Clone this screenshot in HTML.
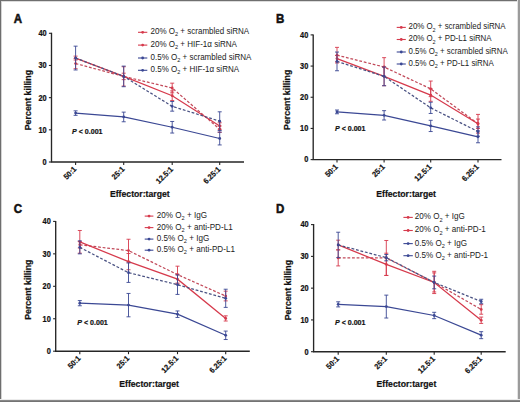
<!DOCTYPE html>
<html><head><meta charset="utf-8"><style>
html,body{margin:0;padding:0;background:#fff;}
body{width:520px;height:402px;overflow:hidden;}
svg{display:block;}
text{font-family:"Liberation Sans", sans-serif;}
.b{stroke:#111;stroke-width:0.22px;}
.L{stroke:#111;stroke-width:0.55px;}
</style></head><body>
<svg width="520" height="402" viewBox="0 0 520 402">
<rect x="0" y="0" width="520" height="402" fill="#fff"/>
<rect x="0" y="0" width="520" height="1" fill="#6f6f6f"/>
<rect x="0" y="1" width="520" height="1" fill="#dcdcdc"/>
<rect x="0" y="0" width="1" height="402" fill="#6e6e6e"/>
<rect x="1" y="1" width="1" height="400" fill="#d4d4d4"/>
<rect x="517" y="0" width="1" height="402" fill="#e4e4e4"/>
<rect x="518" y="0" width="2" height="402" fill="#9b9b9b"/>
<rect x="0" y="399" width="520" height="1" fill="#ececec"/>
<rect x="0" y="400" width="520" height="1" fill="#888"/>
<rect x="0" y="401" width="520" height="1" fill="#747474"/>
<g>
<text transform="translate(13.7 22.7) scale(0.86 1)" font-size="13.4" font-weight="bold" fill="#111" class="L">A</text>
<path d="M51.5 32.8V162H244" fill="none" stroke="#262626" stroke-width="1.35"/>
<path d="M48.9 162H51.5" stroke="#262626" stroke-width="1.1"/>
<text transform="translate(46.6 164.85) scale(0.9 1)" font-size="8.2" font-weight="bold" text-anchor="end" fill="#111" class="b">0</text>
<path d="M48.9 129.82H51.5" stroke="#262626" stroke-width="1.1"/>
<text transform="translate(46.6 132.67) scale(0.9 1)" font-size="8.2" font-weight="bold" text-anchor="end" fill="#111" class="b">10</text>
<path d="M48.9 97.65H51.5" stroke="#262626" stroke-width="1.1"/>
<text transform="translate(46.6 100.5) scale(0.9 1)" font-size="8.2" font-weight="bold" text-anchor="end" fill="#111" class="b">20</text>
<path d="M48.9 65.48H51.5" stroke="#262626" stroke-width="1.1"/>
<text transform="translate(46.6 68.33) scale(0.9 1)" font-size="8.2" font-weight="bold" text-anchor="end" fill="#111" class="b">30</text>
<path d="M48.9 33.3H51.5" stroke="#262626" stroke-width="1.1"/>
<text transform="translate(46.6 36.15) scale(0.9 1)" font-size="8.2" font-weight="bold" text-anchor="end" fill="#111" class="b">40</text>
<path d="M75.6 162V165" stroke="#262626" stroke-width="1.1"/>
<text transform="translate(76.9 169.8) rotate(-45) scale(0.92 1)" font-size="7.8" font-weight="bold" text-anchor="end" fill="#111" class="b">50:1</text>
<path d="M123.7 162V165" stroke="#262626" stroke-width="1.1"/>
<text transform="translate(125 169.8) rotate(-45) scale(0.92 1)" font-size="7.8" font-weight="bold" text-anchor="end" fill="#111" class="b">25:1</text>
<path d="M172.2 162V165" stroke="#262626" stroke-width="1.1"/>
<text transform="translate(173.5 169.8) rotate(-45) scale(0.92 1)" font-size="7.8" font-weight="bold" text-anchor="end" fill="#111" class="b">12.5:1</text>
<path d="M219.7 162V165" stroke="#262626" stroke-width="1.1"/>
<text transform="translate(221 169.8) rotate(-45) scale(0.92 1)" font-size="7.8" font-weight="bold" text-anchor="end" fill="#111" class="b">6.25:1</text>
<text transform="translate(30.6 100.1) rotate(-90) scale(0.95 1)" font-size="9.3" font-weight="bold" text-anchor="middle" fill="#111" class="b">Percent killing</text>
<text transform="translate(139.8 196.7) scale(0.885 1)" font-size="9.8" font-weight="bold" text-anchor="middle" fill="#111" class="b">Effector:target</text>
<text transform="translate(72.1 133.8) scale(0.92 1)" font-size="7.7" font-weight="bold" fill="#111" class="b"><tspan font-style="italic">P</tspan> &lt; 0.001</text>
<path d="M75.6 63.54 L123.7 76.41 L172.2 88 L219.7 129.18" fill="none" stroke="#c24a5a" stroke-width="1.25" stroke-dasharray="2.8 1.8"/>
<path d="M75.6 58.4V68.69M73.6 58.4H77.6M73.6 68.69H77.6" fill="none" stroke="#d63a4c" stroke-width="1" opacity="0.9"/>
<circle cx="75.6" cy="63.54" r="1.4" fill="#d63a4c"/>
<path d="M123.7 73.2V79.63M121.7 73.2H125.7M121.7 79.63H125.7" fill="none" stroke="#d63a4c" stroke-width="1" opacity="0.9"/>
<circle cx="123.7" cy="76.41" r="1.4" fill="#d63a4c"/>
<path d="M172.2 83.17V92.82M170.2 83.17H174.2M170.2 92.82H174.2" fill="none" stroke="#d63a4c" stroke-width="1" opacity="0.9"/>
<circle cx="172.2" cy="88" r="1.4" fill="#d63a4c"/>
<path d="M219.7 125.96V132.4M217.7 125.96H221.7M217.7 132.4H221.7" fill="none" stroke="#d63a4c" stroke-width="1" opacity="0.9"/>
<circle cx="219.7" cy="129.18" r="1.4" fill="#d63a4c"/>
<path d="M75.6 58.07 L123.7 76.41 L172.2 95.72 L219.7 125.96" fill="none" stroke="#d63a4c" stroke-width="1.25"/>
<path d="M75.6 56.14V60.01M73.6 56.14H77.6M73.6 60.01H77.6" fill="none" stroke="#d63a4c" stroke-width="1" opacity="0.9"/>
<circle cx="75.6" cy="58.07" r="1.4" fill="#d63a4c"/>
<path d="M123.7 66.76V86.07M121.7 66.76H125.7M121.7 86.07H125.7" fill="none" stroke="#d63a4c" stroke-width="1" opacity="0.9"/>
<circle cx="123.7" cy="76.41" r="1.4" fill="#d63a4c"/>
<path d="M172.2 90.89V100.55M170.2 90.89H174.2M170.2 100.55H174.2" fill="none" stroke="#d63a4c" stroke-width="1" opacity="0.9"/>
<circle cx="172.2" cy="95.72" r="1.4" fill="#d63a4c"/>
<path d="M219.7 122.75V129.18M217.7 122.75H221.7M217.7 129.18H221.7" fill="none" stroke="#d63a4c" stroke-width="1" opacity="0.9"/>
<circle cx="219.7" cy="125.96" r="1.4" fill="#d63a4c"/>
<path d="M75.6 113.09 L123.7 116.96 L172.2 127.25 L219.7 138.51" fill="none" stroke="#3b4894" stroke-width="1.25"/>
<path d="M75.6 110.84V115.35M73.6 110.84H77.6M73.6 115.35H77.6" fill="none" stroke="#3b4894" stroke-width="1" opacity="0.9"/>
<circle cx="75.6" cy="113.09" r="1.4" fill="#3b4894"/>
<path d="M123.7 112.13V121.78M121.7 112.13H125.7M121.7 121.78H125.7" fill="none" stroke="#3b4894" stroke-width="1" opacity="0.9"/>
<circle cx="123.7" cy="116.96" r="1.4" fill="#3b4894"/>
<path d="M172.2 121.46V133.04M170.2 121.46H174.2M170.2 133.04H174.2" fill="none" stroke="#3b4894" stroke-width="1" opacity="0.9"/>
<circle cx="172.2" cy="127.25" r="1.4" fill="#3b4894"/>
<path d="M219.7 132.08V144.95M217.7 132.08H221.7M217.7 144.95H221.7" fill="none" stroke="#3b4894" stroke-width="1" opacity="0.9"/>
<circle cx="219.7" cy="138.51" r="1.4" fill="#3b4894"/>
<path d="M75.6 58.07 L123.7 76.41 L172.2 106.34 L219.7 121.14" fill="none" stroke="#4a5283" stroke-width="1.25" stroke-dasharray="2.8 1.8"/>
<path d="M75.6 46.17V69.98M73.6 46.17H77.6M73.6 69.98H77.6" fill="none" stroke="#3b4894" stroke-width="1" opacity="0.9"/>
<circle cx="75.6" cy="58.07" r="1.4" fill="#3b4894"/>
<path d="M123.7 66.12V86.71M121.7 66.12H125.7M121.7 86.71H125.7" fill="none" stroke="#3b4894" stroke-width="1" opacity="0.9"/>
<circle cx="123.7" cy="76.41" r="1.4" fill="#3b4894"/>
<path d="M172.2 101.51V111.16M170.2 101.51H174.2M170.2 111.16H174.2" fill="none" stroke="#3b4894" stroke-width="1" opacity="0.9"/>
<circle cx="172.2" cy="106.34" r="1.4" fill="#3b4894"/>
<path d="M219.7 111.81V130.47M217.7 111.81H221.7M217.7 130.47H221.7" fill="none" stroke="#3b4894" stroke-width="1" opacity="0.9"/>
<circle cx="219.7" cy="121.14" r="1.4" fill="#3b4894"/>
<path d="M138 32.3H147.3" stroke="#d63a4c" stroke-width="1.1"/>
<circle cx="142.65" cy="32.3" r="1.4" fill="#d63a4c"/>
<text transform="translate(150.5 34.2) scale(0.945 1)" font-size="8.5" fill="#222">20% O<tspan font-size="5.9" dy="2.2">2</tspan><tspan dy="-2.2"> + scrambled siRNA</tspan></text>
<path d="M138 45.1H147.3" stroke="#d63a4c" stroke-width="1.1"/>
<circle cx="142.65" cy="45.1" r="1.4" fill="#d63a4c"/>
<text transform="translate(150.5 47) scale(0.945 1)" font-size="8.5" fill="#222">20% O<tspan font-size="5.9" dy="2.2">2</tspan><tspan dy="-2.2"> + HIF-1α siRNA</tspan></text>
<path d="M138 58H147.3" stroke="#3b4894" stroke-width="1.1"/>
<circle cx="142.65" cy="58" r="1.4" fill="#3b4894"/>
<text transform="translate(150.5 59.9) scale(0.945 1)" font-size="8.5" fill="#222">0.5% O<tspan font-size="5.9" dy="2.2">2</tspan><tspan dy="-2.2"> + scrambled siRNA</tspan></text>
<path d="M138 70.3H147.3" stroke="#3b4894" stroke-width="1.1"/>
<circle cx="142.65" cy="70.3" r="1.4" fill="#3b4894"/>
<text transform="translate(150.5 72.2) scale(0.945 1)" font-size="8.5" fill="#222">0.5% O<tspan font-size="5.9" dy="2.2">2</tspan><tspan dy="-2.2"> + HIF-1α siRNA</tspan></text>
</g>
<g>
<text transform="translate(276.1 23) scale(0.86 1)" font-size="13.4" font-weight="bold" fill="#111" class="L">B</text>
<path d="M313.2 34.4V159.6H501.5" fill="none" stroke="#262626" stroke-width="1.35"/>
<path d="M310.6 159.6H313.2" stroke="#262626" stroke-width="1.1"/>
<text transform="translate(308.3 162.45) scale(0.9 1)" font-size="8.2" font-weight="bold" text-anchor="end" fill="#111" class="b">0</text>
<path d="M310.6 128.43H313.2" stroke="#262626" stroke-width="1.1"/>
<text transform="translate(308.3 131.28) scale(0.9 1)" font-size="8.2" font-weight="bold" text-anchor="end" fill="#111" class="b">10</text>
<path d="M310.6 97.25H313.2" stroke="#262626" stroke-width="1.1"/>
<text transform="translate(308.3 100.1) scale(0.9 1)" font-size="8.2" font-weight="bold" text-anchor="end" fill="#111" class="b">20</text>
<path d="M310.6 66.08H313.2" stroke="#262626" stroke-width="1.1"/>
<text transform="translate(308.3 68.92) scale(0.9 1)" font-size="8.2" font-weight="bold" text-anchor="end" fill="#111" class="b">30</text>
<path d="M310.6 34.9H313.2" stroke="#262626" stroke-width="1.1"/>
<text transform="translate(308.3 37.75) scale(0.9 1)" font-size="8.2" font-weight="bold" text-anchor="end" fill="#111" class="b">40</text>
<path d="M337 159.6V162.6" stroke="#262626" stroke-width="1.1"/>
<text transform="translate(338.3 167.4) rotate(-45) scale(0.92 1)" font-size="7.8" font-weight="bold" text-anchor="end" fill="#111" class="b">50:1</text>
<path d="M384.1 159.6V162.6" stroke="#262626" stroke-width="1.1"/>
<text transform="translate(385.4 167.4) rotate(-45) scale(0.92 1)" font-size="7.8" font-weight="bold" text-anchor="end" fill="#111" class="b">25:1</text>
<path d="M430.7 159.6V162.6" stroke="#262626" stroke-width="1.1"/>
<text transform="translate(432 167.4) rotate(-45) scale(0.92 1)" font-size="7.8" font-weight="bold" text-anchor="end" fill="#111" class="b">12.5:1</text>
<path d="M478 159.6V162.6" stroke="#262626" stroke-width="1.1"/>
<text transform="translate(479.3 167.4) rotate(-45) scale(0.92 1)" font-size="7.8" font-weight="bold" text-anchor="end" fill="#111" class="b">6.25:1</text>
<text transform="translate(290 99.8) rotate(-90) scale(0.95 1)" font-size="9.3" font-weight="bold" text-anchor="middle" fill="#111" class="b">Percent killing</text>
<text transform="translate(406.1 196.6) scale(0.885 1)" font-size="9.8" font-weight="bold" text-anchor="middle" fill="#111" class="b">Effector:target</text>
<text transform="translate(335 130.6) scale(0.92 1)" font-size="7.7" font-weight="bold" fill="#111" class="b"><tspan font-style="italic">P</tspan> &lt; 0.001</text>
<path d="M337 55.16 L384.1 67.01 L430.7 88.83 L478 123.75" fill="none" stroke="#c24a5a" stroke-width="1.25" stroke-dasharray="2.8 1.8"/>
<path d="M337 47.37V62.96M335 47.37H339M335 62.96H339" fill="none" stroke="#d63a4c" stroke-width="1" opacity="0.9"/>
<circle cx="337" cy="55.16" r="1.4" fill="#d63a4c"/>
<path d="M384.1 57.66V76.36M382.1 57.66H386.1M382.1 76.36H386.1" fill="none" stroke="#d63a4c" stroke-width="1" opacity="0.9"/>
<circle cx="384.1" cy="67.01" r="1.4" fill="#d63a4c"/>
<path d="M430.7 81.04V96.63M428.7 81.04H432.7M428.7 96.63H432.7" fill="none" stroke="#d63a4c" stroke-width="1" opacity="0.9"/>
<circle cx="430.7" cy="88.83" r="1.4" fill="#d63a4c"/>
<path d="M478 114.4V133.1M476 114.4H480M476 133.1H480" fill="none" stroke="#d63a4c" stroke-width="1" opacity="0.9"/>
<circle cx="478" cy="123.75" r="1.4" fill="#d63a4c"/>
<path d="M337 58.59 L384.1 76.36 L430.7 95.07 L478 123.75" fill="none" stroke="#d63a4c" stroke-width="1.25"/>
<path d="M337 55.48V61.71M335 55.48H339M335 61.71H339" fill="none" stroke="#d63a4c" stroke-width="1" opacity="0.9"/>
<circle cx="337" cy="58.59" r="1.4" fill="#d63a4c"/>
<path d="M384.1 67.01V85.72M382.1 67.01H386.1M382.1 85.72H386.1" fill="none" stroke="#d63a4c" stroke-width="1" opacity="0.9"/>
<circle cx="384.1" cy="76.36" r="1.4" fill="#d63a4c"/>
<path d="M430.7 88.83V101.3M428.7 88.83H432.7M428.7 101.3H432.7" fill="none" stroke="#d63a4c" stroke-width="1" opacity="0.9"/>
<circle cx="430.7" cy="95.07" r="1.4" fill="#d63a4c"/>
<path d="M478 119.07V128.43M476 119.07H480M476 128.43H480" fill="none" stroke="#d63a4c" stroke-width="1" opacity="0.9"/>
<circle cx="478" cy="123.75" r="1.4" fill="#d63a4c"/>
<path d="M337 111.9 L384.1 115.33 L430.7 125.93 L478 136.84" fill="none" stroke="#3b4894" stroke-width="1.25"/>
<path d="M337 110.03V113.77M335 110.03H339M335 113.77H339" fill="none" stroke="#3b4894" stroke-width="1" opacity="0.9"/>
<circle cx="337" cy="111.9" r="1.4" fill="#3b4894"/>
<path d="M384.1 110.66V120.01M382.1 110.66H386.1M382.1 120.01H386.1" fill="none" stroke="#3b4894" stroke-width="1" opacity="0.9"/>
<circle cx="384.1" cy="115.33" r="1.4" fill="#3b4894"/>
<path d="M430.7 120.32V131.54M428.7 120.32H432.7M428.7 131.54H432.7" fill="none" stroke="#3b4894" stroke-width="1" opacity="0.9"/>
<circle cx="430.7" cy="125.93" r="1.4" fill="#3b4894"/>
<path d="M478 130.92V142.77M476 130.92H480M476 142.77H480" fill="none" stroke="#3b4894" stroke-width="1" opacity="0.9"/>
<circle cx="478" cy="136.84" r="1.4" fill="#3b4894"/>
<path d="M337 61.4 L384.1 76.36 L430.7 107.85 L478 131.54" fill="none" stroke="#4a5283" stroke-width="1.25" stroke-dasharray="2.8 1.8"/>
<path d="M337 52.05V70.75M335 52.05H339M335 70.75H339" fill="none" stroke="#3b4894" stroke-width="1" opacity="0.9"/>
<circle cx="337" cy="61.4" r="1.4" fill="#3b4894"/>
<path d="M384.1 67.01V85.72M382.1 67.01H386.1M382.1 85.72H386.1" fill="none" stroke="#3b4894" stroke-width="1" opacity="0.9"/>
<circle cx="384.1" cy="76.36" r="1.4" fill="#3b4894"/>
<path d="M430.7 102.24V113.46M428.7 102.24H432.7M428.7 113.46H432.7" fill="none" stroke="#3b4894" stroke-width="1" opacity="0.9"/>
<circle cx="430.7" cy="107.85" r="1.4" fill="#3b4894"/>
<path d="M478 126.87V136.22M476 126.87H480M476 136.22H480" fill="none" stroke="#3b4894" stroke-width="1" opacity="0.9"/>
<circle cx="478" cy="131.54" r="1.4" fill="#3b4894"/>
<path d="M396.7 27.4H405.8" stroke="#d63a4c" stroke-width="1.1"/>
<circle cx="401.25" cy="27.4" r="1.4" fill="#d63a4c"/>
<text transform="translate(408.5 29.3) scale(0.93 1)" font-size="8.5" fill="#222">20% O<tspan font-size="5.9" dy="2.2">2</tspan><tspan dy="-2.2"> + scrambled siRNA</tspan></text>
<path d="M396.7 39.5H405.8" stroke="#d63a4c" stroke-width="1.1"/>
<circle cx="401.25" cy="39.5" r="1.4" fill="#d63a4c"/>
<text transform="translate(408.5 41.4) scale(0.93 1)" font-size="8.5" fill="#222">20% O<tspan font-size="5.9" dy="2.2">2</tspan><tspan dy="-2.2"> + PD-L1 siRNA</tspan></text>
<path d="M396.7 52H405.8" stroke="#3b4894" stroke-width="1.1"/>
<circle cx="401.25" cy="52" r="1.4" fill="#3b4894"/>
<text transform="translate(408.5 53.9) scale(0.93 1)" font-size="8.5" fill="#222">0.5% O<tspan font-size="5.9" dy="2.2">2</tspan><tspan dy="-2.2"> + scrambled siRNA</tspan></text>
<path d="M396.7 64H405.8" stroke="#3b4894" stroke-width="1.1"/>
<circle cx="401.25" cy="64" r="1.4" fill="#3b4894"/>
<text transform="translate(408.5 65.9) scale(0.93 1)" font-size="8.5" fill="#222">0.5% O<tspan font-size="5.9" dy="2.2">2</tspan><tspan dy="-2.2"> + PD-L1 siRNA</tspan></text>
</g>
<g>
<text transform="translate(13.7 213.3) scale(0.86 1)" font-size="13.4" font-weight="bold" fill="#111" class="L">C</text>
<path d="M55.7 220.9V351.2H249.8" fill="none" stroke="#262626" stroke-width="1.35"/>
<path d="M53.1 351.2H55.7" stroke="#262626" stroke-width="1.1"/>
<text transform="translate(50.8 354.05) scale(0.9 1)" font-size="8.2" font-weight="bold" text-anchor="end" fill="#111" class="b">0</text>
<path d="M53.1 318.75H55.7" stroke="#262626" stroke-width="1.1"/>
<text transform="translate(50.8 321.6) scale(0.9 1)" font-size="8.2" font-weight="bold" text-anchor="end" fill="#111" class="b">10</text>
<path d="M53.1 286.3H55.7" stroke="#262626" stroke-width="1.1"/>
<text transform="translate(50.8 289.15) scale(0.9 1)" font-size="8.2" font-weight="bold" text-anchor="end" fill="#111" class="b">20</text>
<path d="M53.1 253.85H55.7" stroke="#262626" stroke-width="1.1"/>
<text transform="translate(50.8 256.7) scale(0.9 1)" font-size="8.2" font-weight="bold" text-anchor="end" fill="#111" class="b">30</text>
<path d="M53.1 221.4H55.7" stroke="#262626" stroke-width="1.1"/>
<text transform="translate(50.8 224.25) scale(0.9 1)" font-size="8.2" font-weight="bold" text-anchor="end" fill="#111" class="b">40</text>
<path d="M79.8 351.2V354.2" stroke="#262626" stroke-width="1.1"/>
<text transform="translate(81.1 359) rotate(-45) scale(0.92 1)" font-size="7.8" font-weight="bold" text-anchor="end" fill="#111" class="b">50:1</text>
<path d="M128.5 351.2V354.2" stroke="#262626" stroke-width="1.1"/>
<text transform="translate(129.8 359) rotate(-45) scale(0.92 1)" font-size="7.8" font-weight="bold" text-anchor="end" fill="#111" class="b">25:1</text>
<path d="M177.5 351.2V354.2" stroke="#262626" stroke-width="1.1"/>
<text transform="translate(178.8 359) rotate(-45) scale(0.92 1)" font-size="7.8" font-weight="bold" text-anchor="end" fill="#111" class="b">12.5:1</text>
<path d="M225.7 351.2V354.2" stroke="#262626" stroke-width="1.1"/>
<text transform="translate(227 359) rotate(-45) scale(0.92 1)" font-size="7.8" font-weight="bold" text-anchor="end" fill="#111" class="b">6.25:1</text>
<text transform="translate(30.5 289.7) rotate(-90) scale(0.95 1)" font-size="9.3" font-weight="bold" text-anchor="middle" fill="#111" class="b">Percent killing</text>
<text transform="translate(149.1 386.6) scale(0.885 1)" font-size="9.8" font-weight="bold" text-anchor="middle" fill="#111" class="b">Effector:target</text>
<text transform="translate(77.3 325.2) scale(0.92 1)" font-size="7.7" font-weight="bold" fill="#111" class="b"><tspan font-style="italic">P</tspan> &lt; 0.001</text>
<path d="M79.8 244.76 L128.5 250.61 L177.5 274.62 L225.7 296.03" fill="none" stroke="#c24a5a" stroke-width="1.25" stroke-dasharray="2.8 1.8"/>
<path d="M79.8 241.52V248.01M77.8 241.52H81.8M77.8 248.01H81.8" fill="none" stroke="#d63a4c" stroke-width="1" opacity="0.9"/>
<circle cx="79.8" cy="244.76" r="1.4" fill="#d63a4c"/>
<path d="M128.5 239.25V261.96M126.5 239.25H130.5M126.5 261.96H130.5" fill="none" stroke="#d63a4c" stroke-width="1" opacity="0.9"/>
<circle cx="128.5" cy="250.61" r="1.4" fill="#d63a4c"/>
<path d="M177.5 266.18V283.06M175.5 266.18H179.5M175.5 283.06H179.5" fill="none" stroke="#d63a4c" stroke-width="1" opacity="0.9"/>
<circle cx="177.5" cy="274.62" r="1.4" fill="#d63a4c"/>
<path d="M225.7 291.17V300.9M223.7 291.17H227.7M223.7 300.9H227.7" fill="none" stroke="#d63a4c" stroke-width="1" opacity="0.9"/>
<circle cx="225.7" cy="296.03" r="1.4" fill="#d63a4c"/>
<path d="M79.8 241.84 L128.5 261.64 L177.5 279.16 L225.7 318.43" fill="none" stroke="#d63a4c" stroke-width="1.25"/>
<path d="M79.8 230.49V253.2M77.8 230.49H81.8M77.8 253.2H81.8" fill="none" stroke="#d63a4c" stroke-width="1" opacity="0.9"/>
<circle cx="79.8" cy="241.84" r="1.4" fill="#d63a4c"/>
<path d="M128.5 253.53V269.75M126.5 253.53H130.5M126.5 269.75H130.5" fill="none" stroke="#d63a4c" stroke-width="1" opacity="0.9"/>
<circle cx="128.5" cy="261.64" r="1.4" fill="#d63a4c"/>
<path d="M177.5 274.29V284.03M175.5 274.29H179.5M175.5 284.03H179.5" fill="none" stroke="#d63a4c" stroke-width="1" opacity="0.9"/>
<circle cx="177.5" cy="279.16" r="1.4" fill="#d63a4c"/>
<path d="M225.7 315.83V321.02M223.7 315.83H227.7M223.7 321.02H227.7" fill="none" stroke="#d63a4c" stroke-width="1" opacity="0.9"/>
<circle cx="225.7" cy="318.43" r="1.4" fill="#d63a4c"/>
<path d="M79.8 303.17 L128.5 305.12 L177.5 314.21 L225.7 335.3" fill="none" stroke="#3b4894" stroke-width="1.25"/>
<path d="M79.8 300.58V305.77M77.8 300.58H81.8M77.8 305.77H81.8" fill="none" stroke="#3b4894" stroke-width="1" opacity="0.9"/>
<circle cx="79.8" cy="303.17" r="1.4" fill="#3b4894"/>
<path d="M128.5 293.44V316.8M126.5 293.44H130.5M126.5 316.8H130.5" fill="none" stroke="#3b4894" stroke-width="1" opacity="0.9"/>
<circle cx="128.5" cy="305.12" r="1.4" fill="#3b4894"/>
<path d="M177.5 310.96V317.45M175.5 310.96H179.5M175.5 317.45H179.5" fill="none" stroke="#3b4894" stroke-width="1" opacity="0.9"/>
<circle cx="177.5" cy="314.21" r="1.4" fill="#3b4894"/>
<path d="M225.7 331.08V339.52M223.7 331.08H227.7M223.7 339.52H227.7" fill="none" stroke="#3b4894" stroke-width="1" opacity="0.9"/>
<circle cx="225.7" cy="335.3" r="1.4" fill="#3b4894"/>
<path d="M79.8 247.36 L128.5 272.67 L177.5 284.68 L225.7 298.31" fill="none" stroke="#4a5283" stroke-width="1.25" stroke-dasharray="2.8 1.8"/>
<path d="M79.8 240.87V253.85M77.8 240.87H81.8M77.8 253.85H81.8" fill="none" stroke="#3b4894" stroke-width="1" opacity="0.9"/>
<circle cx="79.8" cy="247.36" r="1.4" fill="#3b4894"/>
<path d="M128.5 262.94V282.41M126.5 262.94H130.5M126.5 282.41H130.5" fill="none" stroke="#3b4894" stroke-width="1" opacity="0.9"/>
<circle cx="128.5" cy="272.67" r="1.4" fill="#3b4894"/>
<path d="M177.5 274.94V294.41M175.5 274.94H179.5M175.5 294.41H179.5" fill="none" stroke="#3b4894" stroke-width="1" opacity="0.9"/>
<circle cx="177.5" cy="284.68" r="1.4" fill="#3b4894"/>
<path d="M225.7 289.22V307.39M223.7 289.22H227.7M223.7 307.39H227.7" fill="none" stroke="#3b4894" stroke-width="1" opacity="0.9"/>
<circle cx="225.7" cy="298.31" r="1.4" fill="#3b4894"/>
<path d="M144.7 216.1H153.4" stroke="#d63a4c" stroke-width="1.1"/>
<circle cx="149.05" cy="216.1" r="1.4" fill="#d63a4c"/>
<text transform="translate(156.8 218) scale(0.955 1)" font-size="8.5" fill="#222">20% O<tspan font-size="5.9" dy="2.2">2</tspan><tspan dy="-2.2"> + IgG</tspan></text>
<path d="M144.7 227.6H153.4" stroke="#d63a4c" stroke-width="1.1"/>
<circle cx="149.05" cy="227.6" r="1.4" fill="#d63a4c"/>
<text transform="translate(156.8 229.5) scale(0.955 1)" font-size="8.5" fill="#222">20% O<tspan font-size="5.9" dy="2.2">2</tspan><tspan dy="-2.2"> + anti-PD-L1</tspan></text>
<path d="M144.7 239.1H153.4" stroke="#3b4894" stroke-width="1.1"/>
<circle cx="149.05" cy="239.1" r="1.4" fill="#3b4894"/>
<text transform="translate(156.8 241) scale(0.955 1)" font-size="8.5" fill="#222">0.5% O<tspan font-size="5.9" dy="2.2">2</tspan><tspan dy="-2.2"> + IgG</tspan></text>
<path d="M144.7 250.2H153.4" stroke="#3b4894" stroke-width="1.1"/>
<circle cx="149.05" cy="250.2" r="1.4" fill="#3b4894"/>
<text transform="translate(156.8 252.1) scale(0.955 1)" font-size="8.5" fill="#222">0.5% O<tspan font-size="5.9" dy="2.2">2</tspan><tspan dy="-2.2"> + anti-PD-L1</tspan></text>
</g>
<g>
<text transform="translate(276 213.3) scale(0.86 1)" font-size="13.4" font-weight="bold" fill="#111" class="L">D</text>
<path d="M313.6 224.1V351.7H505.7" fill="none" stroke="#262626" stroke-width="1.35"/>
<path d="M311 351.7H313.6" stroke="#262626" stroke-width="1.1"/>
<text transform="translate(308.7 354.55) scale(0.9 1)" font-size="8.2" font-weight="bold" text-anchor="end" fill="#111" class="b">0</text>
<path d="M311 319.93H313.6" stroke="#262626" stroke-width="1.1"/>
<text transform="translate(308.7 322.78) scale(0.9 1)" font-size="8.2" font-weight="bold" text-anchor="end" fill="#111" class="b">10</text>
<path d="M311 288.15H313.6" stroke="#262626" stroke-width="1.1"/>
<text transform="translate(308.7 291) scale(0.9 1)" font-size="8.2" font-weight="bold" text-anchor="end" fill="#111" class="b">20</text>
<path d="M311 256.38H313.6" stroke="#262626" stroke-width="1.1"/>
<text transform="translate(308.7 259.23) scale(0.9 1)" font-size="8.2" font-weight="bold" text-anchor="end" fill="#111" class="b">30</text>
<path d="M311 224.6H313.6" stroke="#262626" stroke-width="1.1"/>
<text transform="translate(308.7 227.45) scale(0.9 1)" font-size="8.2" font-weight="bold" text-anchor="end" fill="#111" class="b">40</text>
<path d="M338.2 351.7V354.7" stroke="#262626" stroke-width="1.1"/>
<text transform="translate(339.5 359.5) rotate(-45) scale(0.92 1)" font-size="7.8" font-weight="bold" text-anchor="end" fill="#111" class="b">50:1</text>
<path d="M386.3 351.7V354.7" stroke="#262626" stroke-width="1.1"/>
<text transform="translate(387.6 359.5) rotate(-45) scale(0.92 1)" font-size="7.8" font-weight="bold" text-anchor="end" fill="#111" class="b">25:1</text>
<path d="M434.2 351.7V354.7" stroke="#262626" stroke-width="1.1"/>
<text transform="translate(435.5 359.5) rotate(-45) scale(0.92 1)" font-size="7.8" font-weight="bold" text-anchor="end" fill="#111" class="b">12.5:1</text>
<path d="M481.2 351.7V354.7" stroke="#262626" stroke-width="1.1"/>
<text transform="translate(482.5 359.5) rotate(-45) scale(0.92 1)" font-size="7.8" font-weight="bold" text-anchor="end" fill="#111" class="b">6.25:1</text>
<text transform="translate(290.6 290.1) rotate(-90) scale(0.95 1)" font-size="9.3" font-weight="bold" text-anchor="middle" fill="#111" class="b">Percent killing</text>
<text transform="translate(406.4 386.6) scale(0.885 1)" font-size="9.8" font-weight="bold" text-anchor="middle" fill="#111" class="b">Effector:target</text>
<text transform="translate(335 325.2) scale(0.92 1)" font-size="7.7" font-weight="bold" fill="#111" class="b"><tspan font-style="italic">P</tspan> &lt; 0.001</text>
<path d="M338.2 257.96 L386.3 257.96 L434.2 282.43 L481.2 309.44" fill="none" stroke="#c24a5a" stroke-width="1.25" stroke-dasharray="2.8 1.8"/>
<path d="M338.2 250.02V265.91M336.2 250.02H340.2M336.2 265.91H340.2" fill="none" stroke="#d63a4c" stroke-width="1" opacity="0.9"/>
<circle cx="338.2" cy="257.96" r="1.4" fill="#d63a4c"/>
<path d="M386.3 240.49V275.44M384.3 240.49H388.3M384.3 275.44H388.3" fill="none" stroke="#d63a4c" stroke-width="1" opacity="0.9"/>
<circle cx="386.3" cy="257.96" r="1.4" fill="#d63a4c"/>
<path d="M434.2 272.9V291.96M432.2 272.9H436.2M432.2 291.96H436.2" fill="none" stroke="#d63a4c" stroke-width="1" opacity="0.9"/>
<circle cx="434.2" cy="282.43" r="1.4" fill="#d63a4c"/>
<path d="M481.2 304.67V314.21M479.2 304.67H483.2M479.2 314.21H483.2" fill="none" stroke="#d63a4c" stroke-width="1" opacity="0.9"/>
<circle cx="481.2" cy="309.44" r="1.4" fill="#d63a4c"/>
<path d="M338.2 244.94 L386.3 264.32 L434.2 282.43 L481.2 320.24" fill="none" stroke="#d63a4c" stroke-width="1.25"/>
<path d="M338.2 240.17V249.7M336.2 240.17H340.2M336.2 249.7H340.2" fill="none" stroke="#d63a4c" stroke-width="1" opacity="0.9"/>
<circle cx="338.2" cy="244.94" r="1.4" fill="#d63a4c"/>
<path d="M386.3 253.2V275.44M384.3 253.2H388.3M384.3 275.44H388.3" fill="none" stroke="#d63a4c" stroke-width="1" opacity="0.9"/>
<circle cx="386.3" cy="264.32" r="1.4" fill="#d63a4c"/>
<path d="M434.2 271.31V293.55M432.2 271.31H436.2M432.2 293.55H436.2" fill="none" stroke="#d63a4c" stroke-width="1" opacity="0.9"/>
<circle cx="434.2" cy="282.43" r="1.4" fill="#d63a4c"/>
<path d="M481.2 317.07V323.42M479.2 317.07H483.2M479.2 323.42H483.2" fill="none" stroke="#d63a4c" stroke-width="1" opacity="0.9"/>
<circle cx="481.2" cy="320.24" r="1.4" fill="#d63a4c"/>
<path d="M338.2 304.36 L386.3 306.58 L434.2 315.48 L481.2 335.18" fill="none" stroke="#3b4894" stroke-width="1.25"/>
<path d="M338.2 301.81V306.9M336.2 301.81H340.2M336.2 306.9H340.2" fill="none" stroke="#3b4894" stroke-width="1" opacity="0.9"/>
<circle cx="338.2" cy="304.36" r="1.4" fill="#3b4894"/>
<path d="M386.3 295.14V318.02M384.3 295.14H388.3M384.3 318.02H388.3" fill="none" stroke="#3b4894" stroke-width="1" opacity="0.9"/>
<circle cx="386.3" cy="306.58" r="1.4" fill="#3b4894"/>
<path d="M434.2 312.3V318.65M432.2 312.3H436.2M432.2 318.65H436.2" fill="none" stroke="#3b4894" stroke-width="1" opacity="0.9"/>
<circle cx="434.2" cy="315.48" r="1.4" fill="#3b4894"/>
<path d="M481.2 331.68V338.67M479.2 331.68H483.2M479.2 338.67H483.2" fill="none" stroke="#3b4894" stroke-width="1" opacity="0.9"/>
<circle cx="481.2" cy="335.18" r="1.4" fill="#3b4894"/>
<path d="M338.2 244.94 L386.3 257.65 L434.2 282.43 L481.2 301.5" fill="none" stroke="#4a5283" stroke-width="1.25" stroke-dasharray="2.8 1.8"/>
<path d="M338.2 232.23V257.65M336.2 232.23H340.2M336.2 257.65H340.2" fill="none" stroke="#3b4894" stroke-width="1" opacity="0.9"/>
<circle cx="338.2" cy="244.94" r="1.4" fill="#3b4894"/>
<path d="M386.3 254.47V260.82M384.3 254.47H388.3M384.3 260.82H388.3" fill="none" stroke="#3b4894" stroke-width="1" opacity="0.9"/>
<circle cx="386.3" cy="257.65" r="1.4" fill="#3b4894"/>
<path d="M434.2 276.08V288.79M432.2 276.08H436.2M432.2 288.79H436.2" fill="none" stroke="#3b4894" stroke-width="1" opacity="0.9"/>
<circle cx="434.2" cy="282.43" r="1.4" fill="#3b4894"/>
<path d="M481.2 299.27V303.72M479.2 299.27H483.2M479.2 303.72H483.2" fill="none" stroke="#3b4894" stroke-width="1" opacity="0.9"/>
<circle cx="481.2" cy="301.5" r="1.4" fill="#3b4894"/>
<path d="M403.4 217.4H412.8" stroke="#d63a4c" stroke-width="1.1"/>
<circle cx="408.1" cy="217.4" r="1.4" fill="#d63a4c"/>
<text transform="translate(414.8 219.3) scale(0.95 1)" font-size="8.5" fill="#222">20% O<tspan font-size="5.9" dy="2.2">2</tspan><tspan dy="-2.2"> + IgG</tspan></text>
<path d="M403.4 230.5H412.8" stroke="#d63a4c" stroke-width="1.1"/>
<circle cx="408.1" cy="230.5" r="1.4" fill="#d63a4c"/>
<text transform="translate(414.8 232.4) scale(0.95 1)" font-size="8.5" fill="#222">20% O<tspan font-size="5.9" dy="2.2">2</tspan><tspan dy="-2.2"> + anti-PD-1</tspan></text>
<path d="M403.4 243.6H412.8" stroke="#3b4894" stroke-width="1.1"/>
<circle cx="408.1" cy="243.6" r="1.4" fill="#3b4894"/>
<text transform="translate(414.8 245.5) scale(0.95 1)" font-size="8.5" fill="#222">0.5% O<tspan font-size="5.9" dy="2.2">2</tspan><tspan dy="-2.2"> + IgG</tspan></text>
<path d="M403.4 255.7H412.8" stroke="#3b4894" stroke-width="1.1"/>
<circle cx="408.1" cy="255.7" r="1.4" fill="#3b4894"/>
<text transform="translate(414.8 257.6) scale(0.95 1)" font-size="8.5" fill="#222">0.5% O<tspan font-size="5.9" dy="2.2">2</tspan><tspan dy="-2.2"> + anti-PD-1</tspan></text>
</g>
</svg>
</body></html>
